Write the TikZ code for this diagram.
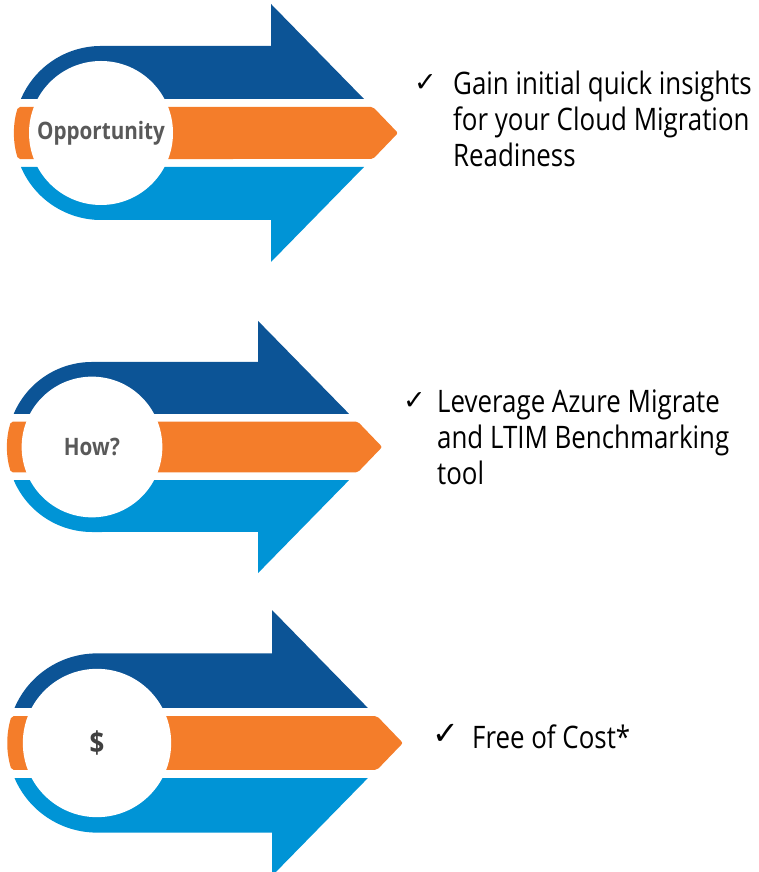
\documentclass[tikz,border=0pt]{standalone}
\usepackage{fontspec}
\setmainfont{Open Sans}[FakeStretch=0.86]
\newfontfamily\pointfont{Open Sans}[FakeStretch=0.835]
\newfontfamily\checkfont{DejaVu Sans}
\definecolor{mydarkblue}{RGB}{12,84,150}
\definecolor{myorange}{RGB}{244,125,42}
\definecolor{mylightblue}{RGB}{0,148,214}
\definecolor{mygray}{RGB}{89,89,89}
\newcommand{\toplines}[1]{\begin{tabular}[t]{@{}l@{}}#1\end{tabular}}
\usetikzlibrary{positioning}

\begin{document}
\begin{tikzpicture}[x=1pt,y=1pt,
    every node/.style={inner sep=0pt},
    topband/.style={fill=mydarkblue},
    midband/.style={fill=myorange,rounded corners=2pt},
    lowband/.style={fill=mylightblue},
    hub/.style={circle,fill=white,text=mygray,font=\fontsize{24}{28}\selectfont\bfseries},
    point/.style={font=\pointfont\fontsize{31}{36}\selectfont},
    tick/.style={font=\checkfont\bfseries\fontsize{27}{30}\selectfont}
    ]
    \useasboundingbox (0,0) rectangle (758,872);

    % the three arrows
    \foreach \i/\cx/\cy/\s/\lab in {1/101/739/1/Opportunity,2/92/425/0.977/How?,3/97/129/1.03/{\fontsize{30}{32}\selectfont\color{black!75}\$}}{
    \begin{scope}[shift={(\cx,\cy)},scale=\s]
    \fill[topband] (-80.08,34) arc (157:90:87) -- (170,87) -- (170,129) -- (263,34) -- cycle;
    \fill[midband] (-83,26) arc (162.6:197.4:87) -- (272,-26) -- (297,0) -- (272,26) -- cycle;
    \fill[lowband] (-80.08,-34) arc (203:270:87) -- (170,-87) -- (170,-129) -- (263,-34) -- cycle;
    \node[hub,minimum size=\s*144pt] (hub\i) at (0,0) {\lab};
    \end{scope}
    }

    % the texts
    \node[point,anchor=base west] (t1) at (453,777) {\toplines{Gain initial quick insights\\for your Cloud Migration\\Readiness}};
    \node[point,anchor=base west] (t2) at (437,459) {\toplines{Leverage Azure Migrate\\and LTIM Benchmarking\\tool}};
    \node[point,anchor=base west] (t3) at (472,123) {Free of Cost*};

    % the ticks
    \node[tick,base left=16pt of t1,yshift=3pt] (c1) {✓};
    \node[tick,base left=11pt of t2,yshift=3pt] (c2) {✓};
    \node[tick,base left=12pt of t3,yshift=4pt,font=\checkfont\bfseries\fontsize{32}{36}\selectfont] (c3) {✓};
\end{tikzpicture}
\end{document}
